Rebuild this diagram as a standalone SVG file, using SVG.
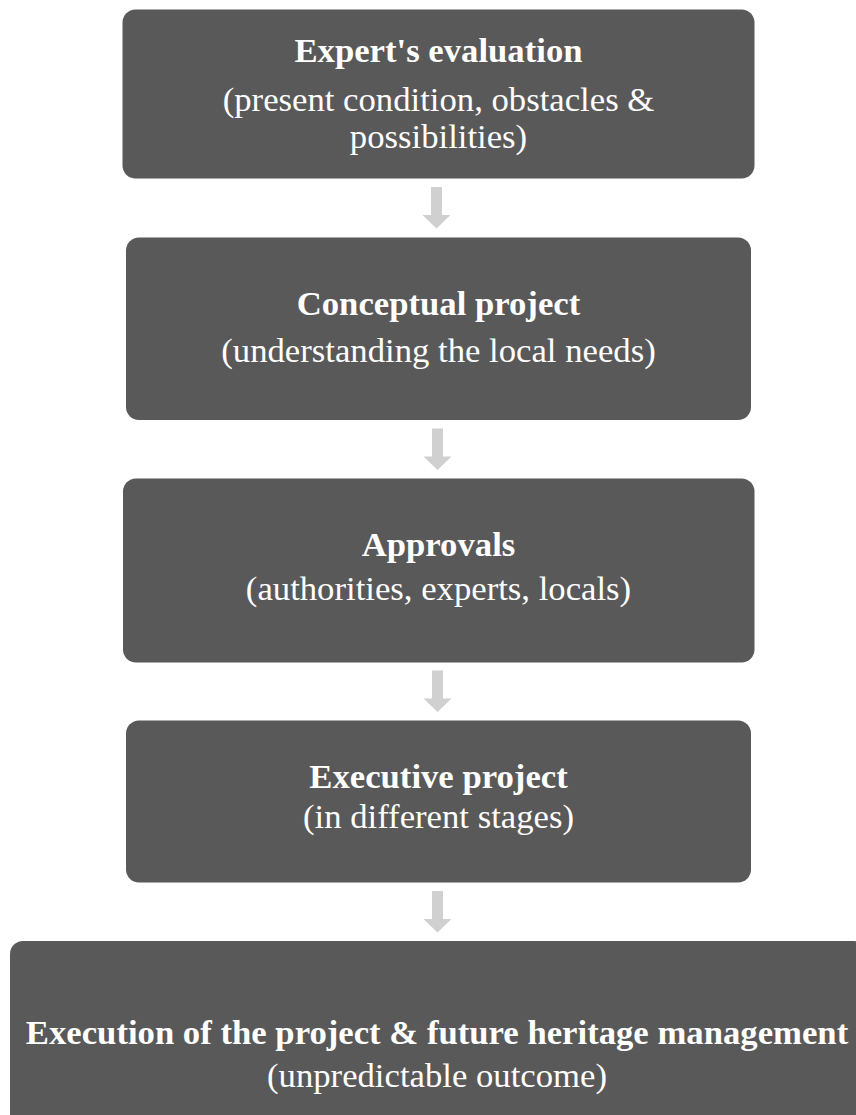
<svg xmlns="http://www.w3.org/2000/svg" width="856" height="1115" viewBox="0 0 856 1115">
  <defs>
    <style>
      .box { fill: #595959; }
      .title { font-family: "Liberation Serif", "Times New Roman", serif; font-size: 34.7px; font-weight: bold; fill: #ffffff; text-anchor: middle; }
      .sub { font-family: "Liberation Serif", "Times New Roman", serif; font-size: 34.7px; fill: #ffffff; text-anchor: middle; }
      .arrow { fill: #d0d0d0; }
    </style>
    <!-- down arrow, tip at origin-relative (0,41) -->
    <path id="down" class="arrow" d="M -5.5 0 H 5.5 V 28 H 14 L 0 41.5 L -14 28 H -5.5 Z"/>
  </defs>
  <rect width="856" height="1115" fill="#ffffff"/>

  <g id="connectors">
    <use href="#down" x="436.5" y="187"/>
    <use href="#down" x="437.5" y="428.5"/>
    <use href="#down" x="437.5" y="670.5"/>
    <use href="#down" x="437.5" y="891"/>
  </g>

  <g id="expert-evaluation">
    <rect class="box" x="122.5" y="9.5" width="632" height="169" rx="13"/>
    <text class="title" x="438.5" y="62">Expert's evaluation</text>
    <text class="sub" x="438.5" y="111">(present condition, obstacles &amp;</text>
    <text class="sub" x="438.5" y="148">possibilities)</text>
  </g>

  <g id="conceptual-project">
    <rect class="box" x="126" y="237.5" width="625" height="182.5" rx="13"/>
    <text class="title" x="438.5" y="315">Conceptual project</text>
    <text class="sub" x="438.5" y="362">(understanding the local needs)</text>
  </g>

  <g id="approvals">
    <rect class="box" x="123" y="478.5" width="631.5" height="184" rx="13"/>
    <text class="title" x="438.5" y="556">Approvals</text>
    <text class="sub" x="438.5" y="600">(authorities, experts, locals)</text>
  </g>

  <g id="executive-project">
    <rect class="box" x="126" y="720.5" width="625" height="162" rx="13"/>
    <text class="title" x="438.5" y="788">Executive project</text>
    <text class="sub" x="438.5" y="828">(in different stages)</text>
  </g>

  <g id="execution-management">
    <rect class="box" x="10" y="941" width="856" height="190" rx="13"/>
    <text class="title" x="437" y="1044">Execution of the project &amp; future heritage management</text>
    <text class="sub" x="437" y="1087">(unpredictable outcome)</text>
  </g>
</svg>
